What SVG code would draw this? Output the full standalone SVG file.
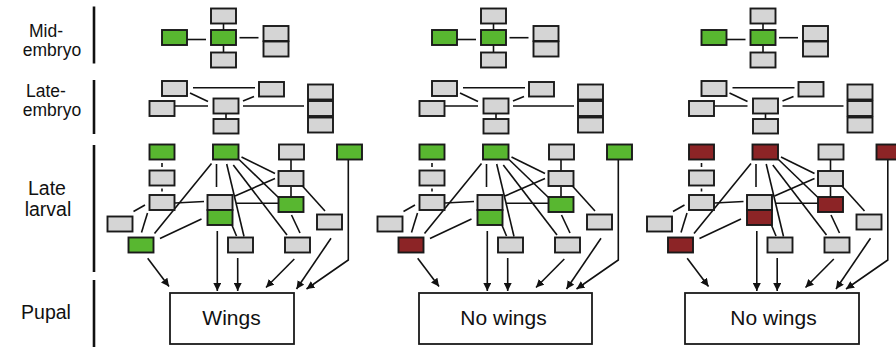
<svg xmlns="http://www.w3.org/2000/svg" width="896" height="347" viewBox="0 0 896 347">
<defs>
<style>
.lbl{font-family:"Liberation Sans",Arial,sans-serif;font-size:17.5px;fill:#111;text-anchor:middle}
.lbl2{font-family:"Liberation Sans",Arial,sans-serif;font-size:19.5px;fill:#111;text-anchor:middle}
.out{font-family:"Liberation Sans",Arial,sans-serif;font-size:21px;fill:#111;text-anchor:middle}
.g{fill:#d5d5d5;stroke:#1a1a1a;stroke-width:1.9}
.gr{fill:#58b730;stroke:#1a1a1a;stroke-width:1.9}
.rd{fill:#8c2426;stroke:#1a1a1a;stroke-width:1.9}
.pb{fill:#fff;stroke:#1a1a1a;stroke-width:1.8}
.ln{stroke:#111;stroke-width:1.6;fill:none}
.ar{stroke:#111;stroke-width:1.6;fill:none;marker-end:url(#ah)}
.bar{stroke:#111;stroke-width:2.6}
</style>
<marker id="ah" markerUnits="userSpaceOnUse" markerWidth="9" markerHeight="8" refX="8" refY="4" orient="auto">
<path d="M0,0 L8,4 L0,8 z" fill="#111"/>
</marker>
</defs>
<rect width="896" height="347" fill="#fff"/>
<g id="labels">
<text class="lbl" x="46" y="36.5">Mid-<tspan x="52" dy="19">embryo</tspan></text>
<text class="lbl" x="46" y="96.5">Late-<tspan x="52" dy="19">embryo</tspan></text>
<text class="lbl2" x="47" y="195">Late<tspan x="48" dy="20.5">larval</tspan></text>
<text class="lbl2" x="46" y="319">Pupal</text>
<line class="bar" x1="94" y1="6.5" x2="94" y2="63.5"/>
<line class="bar" x1="94" y1="80" x2="94" y2="134"/>
<line class="bar" x1="94" y1="145" x2="94" y2="272"/>
<line class="bar" x1="94" y1="280" x2="94" y2="347"/>
</g>

<!-- PANEL 1 -->
<g id="panel1">
<g id="p1-connectors">
<line class="ln" x1="187" y1="39.5" x2="206" y2="39.5"/>
<line class="ln" x1="239.5" y1="37.7" x2="258.5" y2="37.7"/>
<line class="ln" x1="223.5" y1="23.5" x2="223.5" y2="30"/>
<line class="ln" x1="223.5" y1="45" x2="223.5" y2="52.5"/>
<line class="ln" x1="193" y1="87.7" x2="255" y2="87.7"/>
<line class="ln" x1="190" y1="93" x2="208" y2="101.5"/>
<line class="ln" x1="254" y1="96.5" x2="243" y2="101"/>
<line class="ln" x1="175" y1="106" x2="208" y2="106"/>
<line class="ln" x1="243" y1="106" x2="304" y2="106"/>
<line class="ln" x1="226" y1="113.5" x2="226" y2="119"/>
<line class="ln" x1="162" y1="163" x2="162" y2="167"/>
<line class="ln" x1="162" y1="188.5" x2="162" y2="191.5"/>
<line class="ln" x1="175" y1="203" x2="204" y2="201.5"/>
<line class="ln" x1="133.5" y1="211.5" x2="145" y2="205"/>
<line class="ln" x1="147.5" y1="213" x2="141.5" y2="232.5"/>
<line class="ln" x1="211.5" y1="163.5" x2="154.5" y2="233.5"/>
<line class="ln" x1="216.5" y1="164" x2="216.5" y2="187"/>
<line class="ln" x1="226.7" y1="164" x2="244" y2="236.5"/>
<line class="ln" x1="233.3" y1="165" x2="287" y2="235"/>
<line class="ln" x1="239" y1="159.5" x2="279" y2="198"/>
<line class="ln" x1="241.5" y1="157" x2="275" y2="173.5"/>
<line class="ln" x1="275" y1="178.5" x2="235" y2="196"/>
<line class="ln" x1="236" y1="203.3" x2="278.5" y2="203.3"/>
<line class="ln" x1="291" y1="160" x2="291" y2="171"/>
<line class="ln" x1="291" y1="187" x2="291" y2="197"/>
<line class="ln" x1="301.5" y1="185" x2="325" y2="211"/>
<line class="ln" x1="291.5" y1="215" x2="300" y2="233"/>
<line class="ln" x1="201.5" y1="219" x2="160" y2="238.5"/>
<line class="ln" x1="231.5" y1="224" x2="236.5" y2="236"/>
<line class="ar" x1="147.7" y1="258.3" x2="169" y2="286.5"/>
<line class="ar" x1="217.3" y1="231" x2="217.3" y2="291"/>
<line class="ar" x1="237.7" y1="258" x2="237.7" y2="291"/>
<line class="ar" x1="294.3" y1="259" x2="266" y2="287.5"/>
<line class="ar" x1="331" y1="238.3" x2="296.5" y2="289"/>
<polyline class="ar" points="348.3,160 348.3,260 306.5,289"/>
</g>
<g id="p1-m1"><rect class="gr" x="162" y="30" width="25" height="15"/></g>
<g id="p1-m2"><rect class="gr" x="211" y="30" width="25" height="15"/></g>
<g id="p1-m3"><rect class="g" x="211" y="8.5" width="25" height="15"/></g>
<g id="p1-m4"><rect class="g" x="211" y="52.5" width="25" height="15"/></g>
<g id="p1-m5"><rect class="g" x="263.5" y="26" width="25" height="15"/></g>
<g id="p1-m6"><rect class="g" x="263.5" y="41.5" width="25" height="15"/></g>
<g id="p1-e1"><rect class="g" x="162" y="81" width="25" height="15"/></g>
<g id="p1-e2"><rect class="g" x="149.5" y="101" width="25" height="15"/></g>
<g id="p1-e3"><rect class="g" x="213.5" y="98.5" width="25" height="15"/></g>
<g id="p1-e4"><rect class="g" x="213.5" y="119" width="25" height="14.5"/></g>
<g id="p1-e5"><rect class="g" x="259" y="82" width="25" height="14.5"/></g>
<g id="p1-e6"><rect class="g" x="308" y="84.5" width="25" height="15"/></g>
<g id="p1-e7"><rect class="g" x="308" y="101" width="25" height="15"/></g>
<g id="p1-e8"><rect class="g" x="308" y="117.5" width="25" height="15"/></g>
<g id="p1-A"><rect class="gr" x="149.5" y="144.5" width="25" height="15"/></g>
<g id="p1-B"><rect class="gr" x="213" y="144.5" width="25.5" height="15"/></g>
<g id="p1-C"><rect class="g" x="279" y="144.5" width="25" height="15"/></g>
<g id="p1-D"><rect class="gr" x="337" y="144.5" width="25" height="15"/></g>
<g id="p1-E"><rect class="g" x="149.5" y="170.5" width="25" height="15"/></g>
<g id="p1-F"><rect class="g" x="149.5" y="195" width="25" height="15"/></g>
<g id="p1-G"><rect class="g" x="107.5" y="216.5" width="25" height="15"/></g>
<g id="p1-H"><rect class="gr" x="128.5" y="237.5" width="25" height="15"/></g>
<g id="p1-I"><rect class="g" x="207.5" y="195" width="25" height="15"/></g>
<g id="p1-J"><rect class="gr" x="207.5" y="210" width="25" height="15"/></g>
<g id="p1-K"><rect class="g" x="228" y="237.5" width="25" height="15"/></g>
<g id="p1-L"><rect class="g" x="278.5" y="171" width="25" height="15"/></g>
<g id="p1-M"><rect class="gr" x="278.5" y="197" width="25" height="15"/></g>
<g id="p1-N"><rect class="g" x="317" y="214.5" width="25" height="15"/></g>
<g id="p1-O"><rect class="g" x="285" y="237.5" width="25" height="15"/></g>
<g id="p1-out"><rect class="pb" x="170" y="293" width="124" height="51"/><text class="out" x="231.5" y="325">Wings</text></g>
</g>

<!-- PANEL 2 -->
<g id="panel2" transform="translate(270,0)">
<g id="p2-connectors">
<line class="ln" x1="187" y1="39.5" x2="206" y2="39.5"/>
<line class="ln" x1="239.5" y1="37.7" x2="258.5" y2="37.7"/>
<line class="ln" x1="223.5" y1="23.5" x2="223.5" y2="30"/>
<line class="ln" x1="223.5" y1="45" x2="223.5" y2="52.5"/>
<line class="ln" x1="193" y1="87.7" x2="255" y2="87.7"/>
<line class="ln" x1="190" y1="93" x2="208" y2="101.5"/>
<line class="ln" x1="254" y1="96.5" x2="243" y2="101"/>
<line class="ln" x1="175" y1="106" x2="208" y2="106"/>
<line class="ln" x1="243" y1="106" x2="304" y2="106"/>
<line class="ln" x1="226" y1="113.5" x2="226" y2="119"/>
<line class="ln" x1="162" y1="163" x2="162" y2="167"/>
<line class="ln" x1="162" y1="188.5" x2="162" y2="191.5"/>
<line class="ln" x1="175" y1="203" x2="204" y2="201.5"/>
<line class="ln" x1="133.5" y1="211.5" x2="145" y2="205"/>
<line class="ln" x1="147.5" y1="213" x2="141.5" y2="232.5"/>
<line class="ln" x1="211.5" y1="163.5" x2="154.5" y2="233.5"/>
<line class="ln" x1="216.5" y1="164" x2="216.5" y2="187"/>
<line class="ln" x1="226.7" y1="164" x2="244" y2="236.5"/>
<line class="ln" x1="233.3" y1="165" x2="287" y2="235"/>
<line class="ln" x1="239" y1="159.5" x2="279" y2="198"/>
<line class="ln" x1="241.5" y1="157" x2="275" y2="173.5"/>
<line class="ln" x1="275" y1="178.5" x2="235" y2="196"/>
<line class="ln" x1="236" y1="203.3" x2="278.5" y2="203.3"/>
<line class="ln" x1="291" y1="160" x2="291" y2="171"/>
<line class="ln" x1="291" y1="187" x2="291" y2="197"/>
<line class="ln" x1="301.5" y1="185" x2="325" y2="211"/>
<line class="ln" x1="291.5" y1="215" x2="300" y2="233"/>
<line class="ln" x1="201.5" y1="219" x2="160" y2="238.5"/>
<line class="ln" x1="231.5" y1="224" x2="236.5" y2="236"/>
<line class="ar" x1="147.7" y1="258.3" x2="169" y2="286.5"/>
<line class="ar" x1="217.3" y1="231" x2="217.3" y2="291"/>
<line class="ar" x1="237.7" y1="258" x2="237.7" y2="291"/>
<line class="ar" x1="294.3" y1="259" x2="266" y2="287.5"/>
<line class="ar" x1="331" y1="238.3" x2="296.5" y2="289"/>
<polyline class="ar" points="348.3,160 348.3,260 306.5,289"/>
</g>
<g id="p2-m1"><rect class="gr" x="162" y="30" width="25" height="15"/></g>
<g id="p2-m2"><rect class="gr" x="211" y="30" width="25" height="15"/></g>
<g id="p2-m3"><rect class="g" x="211" y="8.5" width="25" height="15"/></g>
<g id="p2-m4"><rect class="g" x="211" y="52.5" width="25" height="15"/></g>
<g id="p2-m5"><rect class="g" x="263.5" y="26" width="25" height="15"/></g>
<g id="p2-m6"><rect class="g" x="263.5" y="41.5" width="25" height="15"/></g>
<g id="p2-e1"><rect class="g" x="162" y="81" width="25" height="15"/></g>
<g id="p2-e2"><rect class="g" x="149.5" y="101" width="25" height="15"/></g>
<g id="p2-e3"><rect class="g" x="213.5" y="98.5" width="25" height="15"/></g>
<g id="p2-e4"><rect class="g" x="213.5" y="119" width="25" height="14.5"/></g>
<g id="p2-e5"><rect class="g" x="259" y="82" width="25" height="14.5"/></g>
<g id="p2-e6"><rect class="g" x="308" y="84.5" width="25" height="15"/></g>
<g id="p2-e7"><rect class="g" x="308" y="101" width="25" height="15"/></g>
<g id="p2-e8"><rect class="g" x="308" y="117.5" width="25" height="15"/></g>
<g id="p2-A"><rect class="gr" x="149.5" y="144.5" width="25" height="15"/></g>
<g id="p2-B"><rect class="gr" x="213" y="144.5" width="25.5" height="15"/></g>
<g id="p2-C"><rect class="g" x="279" y="144.5" width="25" height="15"/></g>
<g id="p2-D"><rect class="gr" x="337" y="144.5" width="25" height="15"/></g>
<g id="p2-E"><rect class="g" x="149.5" y="170.5" width="25" height="15"/></g>
<g id="p2-F"><rect class="g" x="149.5" y="195" width="25" height="15"/></g>
<g id="p2-G"><rect class="g" x="107.5" y="216.5" width="25" height="15"/></g>
<g id="p2-H"><rect class="rd" x="128.5" y="237.5" width="25" height="15"/></g>
<g id="p2-I"><rect class="g" x="207.5" y="195" width="25" height="15"/></g>
<g id="p2-J"><rect class="gr" x="207.5" y="210" width="25" height="15"/></g>
<g id="p2-K"><rect class="g" x="228" y="237.5" width="25" height="15"/></g>
<g id="p2-L"><rect class="g" x="278.5" y="171" width="25" height="15"/></g>
<g id="p2-M"><rect class="gr" x="278.5" y="197" width="25" height="15"/></g>
<g id="p2-N"><rect class="g" x="317" y="214.5" width="25" height="15"/></g>
<g id="p2-O"><rect class="g" x="285" y="237.5" width="25" height="15"/></g>
<g id="p2-out"><rect class="pb" x="149" y="293" width="173" height="51"/><text class="out" x="233.5" y="325">No wings</text></g>
</g>

<!-- PANEL 3 -->
<g id="panel3" transform="translate(539.5,0)">
<g id="p3-connectors">
<line class="ln" x1="187" y1="39.5" x2="206" y2="39.5"/>
<line class="ln" x1="239.5" y1="37.7" x2="258.5" y2="37.7"/>
<line class="ln" x1="223.5" y1="23.5" x2="223.5" y2="30"/>
<line class="ln" x1="223.5" y1="45" x2="223.5" y2="52.5"/>
<line class="ln" x1="193" y1="87.7" x2="255" y2="87.7"/>
<line class="ln" x1="190" y1="93" x2="208" y2="101.5"/>
<line class="ln" x1="254" y1="96.5" x2="243" y2="101"/>
<line class="ln" x1="175" y1="106" x2="208" y2="106"/>
<line class="ln" x1="243" y1="106" x2="304" y2="106"/>
<line class="ln" x1="226" y1="113.5" x2="226" y2="119"/>
<line class="ln" x1="162" y1="163" x2="162" y2="167"/>
<line class="ln" x1="162" y1="188.5" x2="162" y2="191.5"/>
<line class="ln" x1="175" y1="203" x2="204" y2="201.5"/>
<line class="ln" x1="133.5" y1="211.5" x2="145" y2="205"/>
<line class="ln" x1="147.5" y1="213" x2="141.5" y2="232.5"/>
<line class="ln" x1="211.5" y1="163.5" x2="154.5" y2="233.5"/>
<line class="ln" x1="216.5" y1="164" x2="216.5" y2="187"/>
<line class="ln" x1="226.7" y1="164" x2="244" y2="236.5"/>
<line class="ln" x1="233.3" y1="165" x2="287" y2="235"/>
<line class="ln" x1="239" y1="159.5" x2="279" y2="198"/>
<line class="ln" x1="241.5" y1="157" x2="275" y2="173.5"/>
<line class="ln" x1="275" y1="178.5" x2="235" y2="196"/>
<line class="ln" x1="236" y1="203.3" x2="278.5" y2="203.3"/>
<line class="ln" x1="291" y1="160" x2="291" y2="171"/>
<line class="ln" x1="291" y1="187" x2="291" y2="197"/>
<line class="ln" x1="301.5" y1="185" x2="325" y2="211"/>
<line class="ln" x1="291.5" y1="215" x2="300" y2="233"/>
<line class="ln" x1="201.5" y1="219" x2="160" y2="238.5"/>
<line class="ln" x1="231.5" y1="224" x2="236.5" y2="236"/>
<line class="ar" x1="147.7" y1="258.3" x2="169" y2="286.5"/>
<line class="ar" x1="217.3" y1="231" x2="217.3" y2="291"/>
<line class="ar" x1="237.7" y1="258" x2="237.7" y2="291"/>
<line class="ar" x1="294.3" y1="259" x2="266" y2="287.5"/>
<line class="ar" x1="331" y1="238.3" x2="296.5" y2="289"/>
<polyline class="ar" points="348.3,160 348.3,260 306.5,289"/>
</g>
<g id="p3-m1"><rect class="gr" x="162" y="30" width="25" height="15"/></g>
<g id="p3-m2"><rect class="gr" x="211" y="30" width="25" height="15"/></g>
<g id="p3-m3"><rect class="g" x="211" y="8.5" width="25" height="15"/></g>
<g id="p3-m4"><rect class="g" x="211" y="52.5" width="25" height="15"/></g>
<g id="p3-m5"><rect class="g" x="263.5" y="26" width="25" height="15"/></g>
<g id="p3-m6"><rect class="g" x="263.5" y="41.5" width="25" height="15"/></g>
<g id="p3-e1"><rect class="g" x="162" y="81" width="25" height="15"/></g>
<g id="p3-e2"><rect class="g" x="149.5" y="101" width="25" height="15"/></g>
<g id="p3-e3"><rect class="g" x="213.5" y="98.5" width="25" height="15"/></g>
<g id="p3-e4"><rect class="g" x="213.5" y="119" width="25" height="14.5"/></g>
<g id="p3-e5"><rect class="g" x="259" y="82" width="25" height="14.5"/></g>
<g id="p3-e6"><rect class="g" x="308" y="84.5" width="25" height="15"/></g>
<g id="p3-e7"><rect class="g" x="308" y="101" width="25" height="15"/></g>
<g id="p3-e8"><rect class="g" x="308" y="117.5" width="25" height="15"/></g>
<g id="p3-A"><rect class="rd" x="149.5" y="144.5" width="25" height="15"/></g>
<g id="p3-B"><rect class="rd" x="213" y="144.5" width="25.5" height="15"/></g>
<g id="p3-C"><rect class="g" x="279" y="144.5" width="25" height="15"/></g>
<g id="p3-D"><rect class="rd" x="337" y="144.5" width="25" height="15"/></g>
<g id="p3-E"><rect class="g" x="149.5" y="170.5" width="25" height="15"/></g>
<g id="p3-F"><rect class="g" x="149.5" y="195" width="25" height="15"/></g>
<g id="p3-G"><rect class="g" x="107.5" y="216.5" width="25" height="15"/></g>
<g id="p3-H"><rect class="rd" x="128.5" y="237.5" width="25" height="15"/></g>
<g id="p3-I"><rect class="g" x="207.5" y="195" width="25" height="15"/></g>
<g id="p3-J"><rect class="rd" x="207.5" y="210" width="25" height="15"/></g>
<g id="p3-K"><rect class="g" x="228" y="237.5" width="25" height="15"/></g>
<g id="p3-L"><rect class="g" x="278.5" y="171" width="25" height="15"/></g>
<g id="p3-M"><rect class="rd" x="278.5" y="197" width="25" height="15"/></g>
<g id="p3-N"><rect class="g" x="317" y="214.5" width="25" height="15"/></g>
<g id="p3-O"><rect class="g" x="285" y="237.5" width="25" height="15"/></g>
<g id="p3-out"><rect class="pb" x="145.5" y="293" width="174" height="51"/><text class="out" x="234" y="325">No wings</text></g>
</g>
</svg>
